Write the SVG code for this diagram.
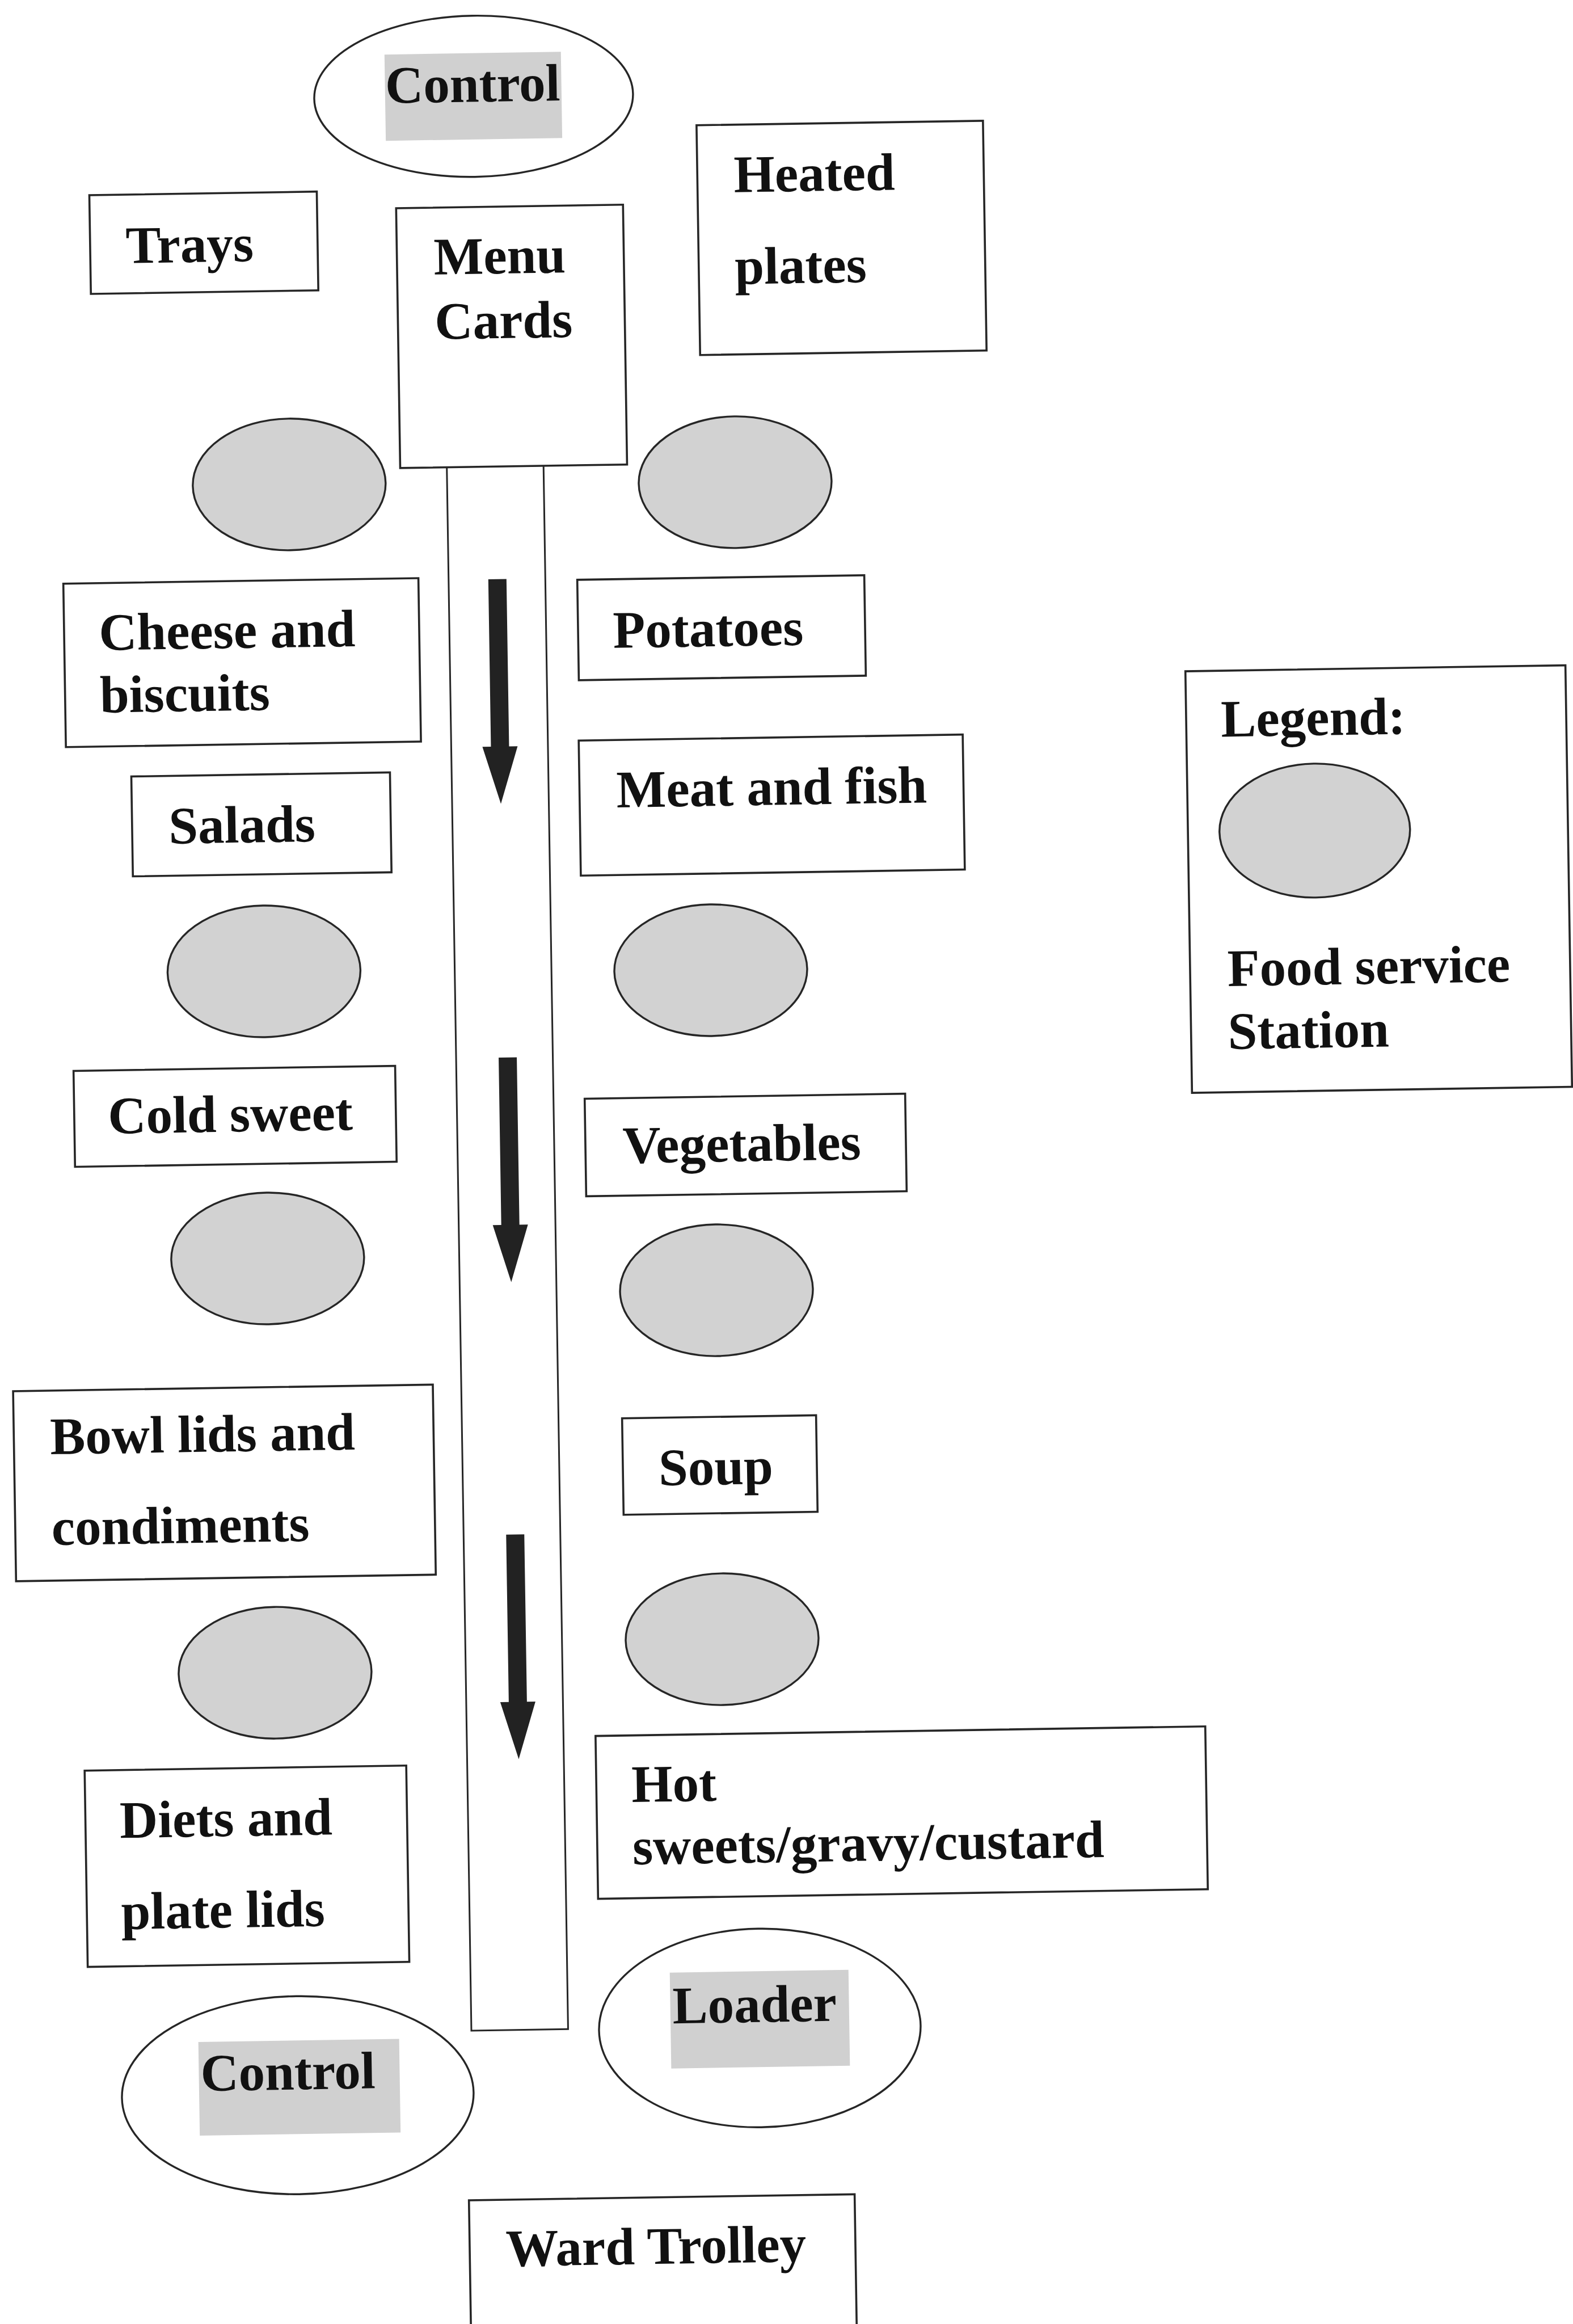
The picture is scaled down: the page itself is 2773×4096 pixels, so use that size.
<svg xmlns="http://www.w3.org/2000/svg" xmlns:xlink="http://www.w3.org/1999/xlink" width="2773" height="4096" viewBox="0 0 2773 4096">
  <style>
    .box { fill: #ffffff; stroke: #262626; stroke-width: 3.6; }
    .ring { fill: #ffffff; stroke: #262626; stroke-width: 3.4; }
    .station { fill: #d2d2d2; stroke: #262626; stroke-width: 3.4; }
    .hl { fill: #d0d0d0; }
    .belt { fill: none; stroke: #262626; stroke-width: 3; }
    .flow { fill: #222222; }
    .lbl { font-family: "Liberation Serif", "Times New Roman", serif; font-weight: bold; font-size: 93px; fill: #111111; }
  </style>
  <defs>
    <!-- downward flow arrow, origin at the top of the shaft -->
    <path id="flow-arrow" d="M-16,0 H16 V295 H31 L0,396 L-31,295 H-16 Z" stroke-linejoin="round"/>
  </defs>

  <rect width="2773" height="4096" fill="#ffffff"/>

  <!-- the whole layout sits slightly tilted on the page -->
  <g transform="rotate(-0.9 1386 2048)">

    <!-- conveyor belt and flow direction -->
    <g id="connectors">
      <rect class="belt" x="807" y="814" width="170.5" height="2756"/>
      <use class="flow" xlink:href="#flow-arrow" x="893" y="1013"/>
      <use class="flow" xlink:href="#flow-arrow" x="898" y="1856"/>
      <use class="flow" xlink:href="#flow-arrow" x="898" y="2697"/>
    </g>

    <g id="control-top">
      <ellipse class="ring" cx="864.5" cy="161.3" rx="281" ry="142"/>
      <rect class="hl" x="708.5" y="85.3" width="311" height="152"/>
      <text class="lbl" x="709" y="171">Control</text>
    </g>

    <g id="trays">
      <rect class="box" x="184.4" y="324.9" width="401" height="174"/>
      <text class="lbl" x="247" y="445.7">Trays</text>
    </g>

    <g id="menu-cards">
      <rect class="box" x="724.8" y="356.4" width="400" height="458"/>
      <text class="lbl" x="789.6" y="474.3">Menu</text>
      <text class="lbl" x="789.6" y="588.3">Cards</text>
    </g>

    <g id="heated-plates">
      <rect class="box" x="1256.6" y="218.5" width="505" height="405"/>
      <text class="lbl" x="1320.8" y="337.6">Heated</text>
      <text class="lbl" x="1320" y="499.6">plates</text>
    </g>

    <g id="station-1l"><ellipse class="station" cx="528.7" cy="840.2" rx="170" ry="116"/></g>
    <g id="station-1r"><ellipse class="station" cx="1314.8" cy="848.6" rx="170" ry="116"/></g>

    <g id="cheese-biscuits">
      <rect class="box" x="127.8" y="1008.9" width="626" height="288"/>
      <text class="lbl" x="189" y="1127">Cheese and</text>
      <text class="lbl" x="189" y="1237">biscuits</text>
    </g>

    <g id="potatoes">
      <rect class="box" x="1033.8" y="1016.2" width="506" height="177"/>
      <text class="lbl" x="1095.2" y="1137.2">Potatoes</text>
    </g>

    <g id="salads">
      <rect class="box" x="242.3" y="1350.5" width="456" height="176"/>
      <text class="lbl" x="306.8" y="1469.9">Salads</text>
    </g>

    <g id="meat-fish">
      <rect class="box" x="1031.9" y="1299.6" width="677" height="238"/>
      <text class="lbl" x="1096.8" y="1418.3">Meat and fish</text>
    </g>

    <g id="station-2l"><ellipse class="station" cx="470.8" cy="1697.6" rx="170" ry="116"/></g>
    <g id="station-2r"><ellipse class="station" cx="1258.3" cy="1707.9" rx="170" ry="116"/></g>

    <g id="cold-sweet">
      <rect class="box" x="132.3" y="1867.8" width="567" height="169"/>
      <text class="lbl" x="191.8" y="1979.2">Cold sweet</text>
    </g>

    <g id="vegetables">
      <rect class="box" x="1032.5" y="1930.9" width="565" height="172"/>
      <text class="lbl" x="1098" y="2045.5">Vegetables</text>
    </g>

    <g id="station-3l"><ellipse class="station" cx="469.3" cy="2203.6" rx="170" ry="116"/></g>
    <g id="station-3r"><ellipse class="station" cx="1259.5" cy="2272.1" rx="170" ry="116"/></g>

    <g id="bowl-lids">
      <rect class="box" x="16.9" y="2430.5" width="740" height="335"/>
      <text class="lbl" x="80.9" y="2542.6">Bowl lids and</text>
      <text class="lbl" x="80.9" y="2702.7">condiments</text>
    </g>

    <g id="soup">
      <rect class="box" x="1089.6" y="2495.2" width="342" height="170"/>
      <text class="lbl" x="1152.6" y="2614.5">Soup</text>
    </g>

    <g id="station-4l"><ellipse class="station" cx="470.9" cy="2933.9" rx="170" ry="116"/></g>
    <g id="station-4r"><ellipse class="station" cx="1259.8" cy="2887.2" rx="170" ry="116"/></g>

    <g id="diets">
      <rect class="box" x="132.5" y="3101.1" width="567" height="346"/>
      <text class="lbl" x="193" y="3220.6">Diets and</text>
      <text class="lbl" x="193" y="3381.6">plate lids</text>
    </g>

    <g id="hot-sweets">
      <rect class="box" x="1034" y="3054.2" width="1075" height="287"/>
      <text class="lbl" x="1096" y="3171.7">Hot</text>
      <text class="lbl" x="1096" y="3281.7">sweets/gravy/custard</text>
    </g>

    <g id="loader">
      <ellipse class="ring" cx="1315.5" cy="3573.3" rx="283.5" ry="175"/>
      <rect class="hl" x="1158.3" y="3473.3" width="315" height="169"/>
      <text class="lbl" x="1162.2" y="3562.9">Loader</text>
    </g>

    <g id="control-bottom">
      <ellipse class="ring" cx="499.2" cy="3679" rx="310" ry="174.5"/>
      <rect class="hl" x="325.4" y="3582.5" width="354" height="165"/>
      <text class="lbl" x="328.3" y="3668.8">Control</text>
    </g>

    <g id="ward-trolley">
      <rect class="box" x="798" y="3869" width="680" height="320"/>
      <text class="lbl" x="861.5" y="3986.2">Ward Trolley</text>
    </g>

    <g id="legend">
      <rect class="box" x="2103.2" y="1194.3" width="670" height="743"/>
      <text class="lbl" x="2164.5" y="1310.6">Legend:</text>
      <ellipse class="station" cx="2326.8" cy="1478.6" rx="168" ry="118"/>
      <text class="lbl" x="2169" y="1750.2">Food service</text>
      <text class="lbl" x="2168" y="1861.2">Station</text>
    </g>
  </g>
</svg>
